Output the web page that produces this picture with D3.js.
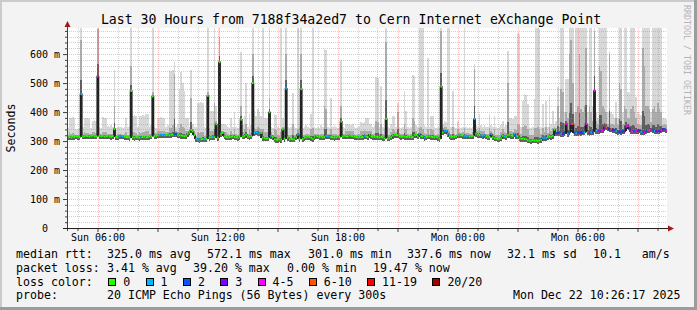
<!DOCTYPE html>
<html>
<head>
<meta charset="utf-8">
<script src="https://cdn.jsdelivr.net/npm/d3@7"></script>
<style>
  body { margin: 0; background: #fff; overflow: hidden; }
  svg { display: block; font-family: "DejaVu Sans Mono", monospace; }
</style>
</head>
<body>
<svg id="chart"></svg>
<script>
// values, one row = one hour (12 steps of 5 min)
const medianMs = [
  313,314,313,315,314,316,315,314,462,316,317,318,
  317,316,318,319,317,316,523,318,317,318,316,317,
  318,316,315,317,341,314,313,316,318,317,315,314,
  313,312,473,313,312,314,313,312,313,314,315,313,
  314,315,316,454,317,318,320,321,322,321,320,321,
  321,320,322,323,324,326,322,320,319,318,317,318,
  325,330,338,333,320,307,306,305,306,307,306,307,
  456,312,313,314,313,358,312,572,326,328,316,314,
  313,314,315,316,314,313,312,315,374,316,318,322,
  316,315,317,500,328,330,329,327,328,312,310,309,
  310,399,318,314,306,305,305,306,305,340,308,481,
  312,306,307,306,306,313,322,308,479,307,312,313,
  315,314,311,308,313,318,316,314,315,313,314,318,
  317,316,314,313,312,313,315,314,367,316,318,317,
  316,319,318,317,315,314,313,314,313,314,318,316,
  314,322,316,315,314,315,314,313,314,312,309,376,
  309,310,313,319,322,321,320,316,315,316,315,314,
  315,314,313,314,320,321,316,324,317,316,312,314,
  316,317,315,314,313,315,312,308,488,330,336,334,
  325,317,314,315,314,316,320,321,320,319,318,317,
  318,316,317,318,376,326,322,321,320,318,320,316,
  313,314,324,313,310,309,307,308,309,318,316,315,
  320,322,319,318,324,318,316,309,308,308,307,306,
  303,302,301,303,302,302,301,302,304,311,312,311,
  314,316,315,318,339,327,327,328,326,325,327,359,
  326,330,359,359,328,327,329,330,328,331,330,359,
  331,329,330,332,473,336,335,334,338,337,346,347,
  344,340,341,338,339,334,332,333,331,334,333,350,
  352,341,334,333,335,334,336,338,332,331,330,333,
  337,338,340,339,334,333,335,334,338,340,341,338
];

// lost pings out of 20 per step
const lossCount = [
  0,0,0,0,0,0,0,0,1,0,0,0,
  0,0,0,0,0,0,4,0,0,0,0,0,
  0,0,0,0,0,0,0,1,1,1,0,0,
  0,0,0,0,0,0,0,0,1,0,0,0,
  0,0,0,0,0,0,0,1,1,1,1,0,
  1,0,0,0,2,2,0,0,0,0,0,0,
  0,0,0,0,0,1,1,1,0,0,1,0,
  0,0,0,1,0,0,0,0,0,0,0,0,
  0,0,0,0,0,0,0,0,0,0,0,0,
  0,0,0,0,1,1,1,1,0,0,0,0,
  0,0,1,0,0,0,0,0,0,0,0,1,
  0,0,0,0,0,0,1,0,0,0,0,0,
  0,0,0,0,0,0,0,0,0,0,0,1,
  1,1,0,0,0,0,0,0,0,0,0,0,
  0,0,0,0,0,0,0,0,0,0,1,0,
  0,0,0,0,0,0,0,0,0,0,0,0,
  0,0,0,0,0,0,0,0,0,0,0,0,
  0,0,0,0,0,0,0,1,0,0,1,0,
  0,0,0,0,0,0,0,0,0,0,1,1,
  1,0,0,0,0,0,0,1,0,0,1,1,
  1,0,0,0,1,0,0,0,1,1,1,0,
  0,0,1,0,0,0,0,0,0,0,1,0,
  0,0,0,0,1,1,0,0,0,0,0,0,
  0,0,0,0,0,0,0,0,0,1,1,1,
  0,0,0,0,0,2,3,2,1,3,2,4,
  1,2,4,6,2,1,2,2,3,2,1,4,
  6,2,1,2,4,1,4,2,5,4,3,6,
  2,3,6,3,2,1,2,3,2,2,3,4,
  4,2,5,4,2,4,3,2,1,2,4,2,
  4,8,4,2,1,3,2,3,4,3,2,4
];

// top of the smoke (slowest ping), ms
const smokeMaxMs = [
  345,381,380,382,378,342,340,345,690,350,381,380,
  380,376,345,370,372,368,690,350,345,383,380,378,
  352,348,355,350,545,345,349,350,348,345,350,381,
  350,352,690,388,390,386,350,388,385,390,388,393,
  393,350,355,690,350,345,381,380,383,379,381,350,
  355,545,543,545,573,350,360,480,539,500,473,381,
  381,350,545,360,350,350,432,430,435,432,350,345,
  690,345,405,405,690,420,350,690,360,360,358,356,
  350,345,381,350,400,350,345,350,607,355,388,501,
  350,393,355,690,405,388,410,400,388,690,381,380,
  381,690,350,345,393,390,350,345,690,380,350,690,
  350,345,350,466,350,345,690,350,690,345,350,355,
  350,345,393,690,350,345,350,345,355,350,617,615,
  350,345,450,350,355,350,345,350,580,350,345,358,
  358,360,356,358,350,345,350,352,364,362,365,381,
  381,360,358,350,355,520,518,350,490,350,345,690,
  350,345,360,388,386,350,432,350,345,350,473,405,
  350,345,350,529,525,355,350,690,690,690,355,350,
  588,350,388,386,350,345,350,345,690,360,370,365,
  690,690,350,473,350,345,370,350,345,350,690,350,
  345,350,345,350,566,355,350,393,355,350,355,350,
  350,395,355,350,388,350,345,350,355,370,350,355,
  611,381,380,375,387,385,672,670,350,439,462,460,
  428,350,345,350,445,690,690,688,350,428,350,439,
  350,456,360,405,360,370,485,380,690,690,400,514,
  514,690,690,690,400,690,690,690,690,690,690,690,
  400,690,690,420,690,400,380,690,690,690,690,690,
  400,611,400,395,380,433,380,690,690,400,690,690,
  468,465,690,690,690,451,400,395,390,690,690,690,
  690,690,400,690,690,690,690,690,690,381,380,375
];

// top of the denser part of the smoke, ms
const smokeMidMs = [
  322,330,326,328,325,322,322,322,650,325,330,328,
  328,326,324,330,332,328,688,326,324,330,332,330,
  325,324,326,325,420,322,325,326,324,322,325,330,
  322,320,560,330,332,328,322,330,328,332,330,335,
  333,325,326,470,328,327,335,334,336,333,334,330,
  330,350,345,355,530,335,330,345,360,350,345,335,
  335,338,450,342,330,318,330,328,330,330,318,316,
  470,320,335,335,430,370,322,660,335,336,330,330,
  324,322,335,325,340,324,322,325,420,330,340,360,
  325,340,328,600,345,340,350,345,340,340,330,330,
  330,450,330,322,340,338,320,318,330,350,322,600,
  322,318,320,360,320,320,340,320,600,320,322,325,
  325,322,340,345,325,325,326,322,325,326,420,410,
  326,325,340,325,325,324,322,325,420,326,325,335,
  335,336,334,335,325,322,324,325,335,336,338,335,
  335,335,334,325,326,370,365,325,360,325,322,640,
  322,322,330,340,338,330,400,328,325,326,360,340,
  325,322,325,380,370,335,326,345,350,340,328,325,
  340,326,340,338,325,322,324,320,680,345,350,348,
  340,335,326,350,325,322,340,330,328,330,345,328,
  328,326,325,330,550,340,335,345,335,333,335,326,
  324,345,335,325,340,322,320,322,330,340,330,328,
  500,335,334,330,340,338,360,355,325,350,355,352,
  340,322,320,322,345,345,350,340,325,345,330,350,
  328,350,335,345,350,345,420,350,480,470,360,400,
  380,600,650,500,360,400,420,600,410,400,420,620,
  360,420,400,370,680,370,360,560,540,420,410,400,
  360,600,360,360,355,380,355,500,480,360,420,410,
  380,375,410,420,400,380,360,355,355,620,560,420,
  420,410,365,410,420,400,430,410,400,355,360,355
];

const lossLabels = ["0", "1", "2", "3", "4-5", "6-10", "11-19", "20/20"];
const lossUpper = [0, 1, 2, 3, 5, 10, 19, 20];
const lossColors = ["#26ff00", "#00b8ff", "#0059ff", "#7e00ff", "#ff00ff", "#ff5500", "#ff0000", "#a00000"];

const yTicks = [0, 0.1, 0.2, 0.3, 0.4, 0.5, 0.6];
const yMax = 0.69;
const startTime = new Date(2025, 11, 21, 4, 28, 30);
const stepMinutes = 5;
const spanHours = 30;

const titleText = "Last 30 Hours from 7188f34a2ed7 to Cern Internet eXchange Point";
const yLabel = "Seconds";
const rttLegend = ["median rtt:", "325.0 ms avg", "572.1 ms max", "301.0 ms min", "337.6 ms now", "32.1 ms sd", "10.1   am/s"];
const lossLegend = ["packet loss:", "3.41 % avg", "39.20 % max", "0.00 % min", "19.47 % now"];
const probeLegend = ["probe:", "20 ICMP Echo Pings (56 Bytes) every 300s"];
const stampText = "Mon Dec 22 10:26:17 2025";
const sideText = "RRDTOOL / TOBI OETIKER";


class SmokeChart {
  constructor(config) {
    this.config = {
      parent: config.parent,
      width: config.width || 697,
      height: config.height || 310,
      margin: config.margin || {top: 28, right: 30, bottom: 82, left: 67}
    };
    this.init();
  }

  init() {
    let self = this;
    const m = self.config.margin;

    self.svg = d3.select(self.config.parent)
      .attr('width', self.config.width)
      .attr('height', self.config.height);

    self.inner_width = self.config.width - m.left - m.right;
    self.inner_height = self.config.height - m.top - m.bottom;

    self.xscale = d3.scaleTime()
      .domain([startTime, d3.timeHour.offset(startTime, spanHours)])
      .range([m.left, m.left + self.inner_width]);
    self.yscale = d3.scaleLinear()
      .domain([0, yMax])
      .range([m.top + self.inner_height, m.top]);

    self.steps = medianMs.map((v, i) => ({
      t0: d3.timeMinute.offset(startTime, i * stepMinutes),
      t1: d3.timeMinute.offset(startTime, (i + 1) * stepMinutes),
      med: v / 1000,
      hi: smokeMaxMs[i] / 1000,
      mid: smokeMidMs[i] / 1000,
      loss: lossCount[i],
      // lowest neighbour, so a lone high median gets its dark column down to the base
      base: Math.min(v, medianMs[Math.max(0, i - 1)], medianMs[Math.min(medianMs.length - 1, i + 1)]) / 1000
    }));

    self.render();
  }

  render() {
    let self = this;
    const m = self.config.margin;
    const W = self.config.width, H = self.config.height;
    const x = self.xscale, y = self.yscale;
    const bottom = m.top + self.inner_height;
    const right = m.left + self.inner_width;

    // frame
    self.svg.append('rect').attr('width', W).attr('height', H).attr('fill', '#f3f3f3');
    self.svg.append('rect').attr('x', 0).attr('y', 0).attr('width', W).attr('height', 2).attr('fill', '#cbcbcb');
    self.svg.append('rect').attr('x', 0).attr('y', 0).attr('width', 2).attr('height', H).attr('fill', '#cbcbcb');
    self.svg.append('rect').attr('x', W - 3).attr('y', 0).attr('width', 3).attr('height', H).attr('fill', '#9c9c9c');
    self.svg.append('rect').attr('x', 0).attr('y', H - 3).attr('width', W).attr('height', 3).attr('fill', '#9c9c9c');

    self.svg.append('rect')
      .attr('x', m.left).attr('y', m.top)
      .attr('width', self.inner_width).attr('height', self.inner_height)
      .attr('fill', '#ffffff');

    self.svg.append('clipPath').attr('id', 'plotclip')
      .append('rect')
      .attr('x', m.left).attr('y', m.top)
      .attr('width', self.inner_width).attr('height', self.inner_height);

    self.chart = self.svg.append('g').attr('clip-path', 'url(#plotclip)');

    // smoke: light = up to slowest ping, mid = dense part, dark = core
    const smoke = self.chart.append('g').attr('shape-rendering', 'crispEdges');
    const colX = d => x(d.t0);
    const colW = d => x(d.t1) - x(d.t0);
    const coreTop = d => d.med + (d.mid - d.med) * 0.25;

    smoke.selectAll('.smoke-hi').data(self.steps).join('rect')
      .attr('class', 'smoke-hi')
      .attr('x', colX).attr('width', colW)
      .attr('y', d => y(d.hi))
      .attr('height', d => Math.max(0, y(d.med) - y(d.hi)))
      .attr('fill', '#d8d8d8');

    smoke.selectAll('.smoke-mid').data(self.steps).join('rect')
      .attr('class', 'smoke-mid')
      .attr('x', colX).attr('width', colW)
      .attr('y', d => y(d.mid))
      .attr('height', d => Math.max(0, y(d.med) - y(d.mid)))
      .attr('fill', '#ababab');

    smoke.selectAll('.smoke-core').data(self.steps).join('rect')
      .attr('class', 'smoke-core')
      .attr('x', colX).attr('width', colW)
      .attr('y', d => y(coreTop(d)))
      .attr('height', d => Math.max(0, y(d.med) + 3 - y(coreTop(d))))
      .attr('fill', '#5e5e5e');

    smoke.selectAll('.smoke-low').data(self.steps.filter(d => d.med - d.base > 0.01)).join('rect')
      .attr('class', 'smoke-low')
      .attr('x', colX).attr('width', colW)
      .attr('y', d => y(d.med))
      .attr('height', d => y(d.base) - y(d.med))
      .attr('fill', '#262626');

    // grid (rrdtool paints it over the graph, semi transparent)
    const grid = self.chart.append('g').attr('stroke-dasharray', '1,1').attr('stroke-width', 1);
    const hours = x.ticks(d3.timeHour.every(1));
    const yMinor = d3.range(1, 35).map(k => k * 0.02).filter((v, k) => (k + 1) % 5 !== 0);

    grid.selectAll('.vminor').data(hours.filter(t => t.getHours() % 3 !== 0)).join('line')
      .attr('class', 'vminor')
      .attr('x1', t => Math.round(x(t)) + 0.5).attr('x2', t => Math.round(x(t)) + 0.5)
      .attr('y1', m.top).attr('y2', bottom)
      .attr('stroke', 'rgba(150,150,150,0.45)');
    grid.selectAll('.hminor').data(yMinor).join('line')
      .attr('class', 'hminor')
      .attr('x1', m.left).attr('x2', right)
      .attr('y1', v => Math.round(y(v)) + 0.5).attr('y2', v => Math.round(y(v)) + 0.5)
      .attr('stroke', 'rgba(150,150,150,0.45)');
    grid.selectAll('.vmajor').data(hours.filter(t => t.getHours() % 3 === 0)).join('line')
      .attr('class', 'vmajor')
      .attr('x1', t => Math.round(x(t)) + 0.5).attr('x2', t => Math.round(x(t)) + 0.5)
      .attr('y1', m.top).attr('y2', bottom)
      .attr('stroke', 'rgba(225,90,90,0.38)');
    grid.selectAll('.hmajor').data(yTicks.slice(1)).join('line')
      .attr('class', 'hmajor')
      .attr('x1', m.left).attr('x2', right)
      .attr('y1', v => Math.round(y(v)) + 0.5).attr('y2', v => Math.round(y(v)) + 0.5)
      .attr('stroke', 'rgba(225,90,90,0.38)');

    // median line in black, then the loss colour marks on it
    const pts = self.steps.map(d => ({t: d.t0, v: d.med}));
    pts.push({t: self.steps[self.steps.length - 1].t1, v: self.steps[self.steps.length - 1].med});
    self.line = d3.line()
      .x(d => x(d.t))
      .y(d => y(d.v))
      .curve(d3.curveStepAfter);
    self.chart.append('path')
      .attr('d', self.line(pts))
      .attr('fill', 'none')
      .attr('stroke', '#202020')
      .attr('stroke-width', 1.2);

    const lossIndex = n => lossUpper.findIndex(u => n <= u);
    self.chart.selectAll('.lossmark').data(self.steps).join('rect')
      .attr('class', 'lossmark')
      .attr('x', colX).attr('width', colW)
      .attr('y', d => y(d.med) - 1)
      .attr('height', 2)
      .attr('fill', d => lossColors[lossIndex(d.loss)]);

    // axes
    const yMajorAxis = d3.axisLeft(y).tickValues(yTicks).tickSize(4).tickPadding(3)
      .tickFormat(v => v === 0 ? "0" : `${Math.round(v * 1000)} m`);
    const yg = self.svg.append('g')
      .attr('transform', `translate(${m.left},0)`)
      .call(yMajorAxis);
    yg.select('.domain').remove();
    yg.selectAll('line').attr('stroke', '#404040');
    yg.selectAll('text')
      .attr('font-family', '"DejaVu Sans Mono", monospace')
      .attr('font-size', '10px').attr('fill', '#000');
    yg.selectAll('.tick').filter(v => v === 0).select('text').attr('x', -19);

    const yMinorAxis = d3.axisLeft(y).tickValues(yMinor).tickSize(2).tickFormat('');
    const ymg = self.svg.append('g')
      .attr('transform', `translate(${m.left},0)`)
      .call(yMinorAxis);
    ymg.select('.domain').remove();
    ymg.selectAll('line').attr('stroke', '#404040');

    const xTickAxis = d3.axisBottom(x).tickValues(hours)
      .tickSizeInner(0).tickSizeOuter(0).tickFormat('');
    const xtg = self.svg.append('g')
      .attr('transform', `translate(0,${bottom})`)
      .call(xTickAxis);
    xtg.select('.domain').remove();
    xtg.selectAll('line')
      .attr('y2', t => t.getHours() % 3 === 0 ? 4 : 3)
      .attr('stroke', '#404040');

    const xLabelAxis = d3.axisBottom(x).ticks(d3.timeHour.every(6))
      .tickSize(0).tickPadding(6).tickFormat(d3.timeFormat('%a %H:%M'));
    const xg = self.svg.append('g')
      .attr('transform', `translate(0,${bottom})`)
      .call(xLabelAxis);
    xg.select('.domain').remove();
    xg.selectAll('text')
      .attr('font-family', '"DejaVu Sans Mono", monospace')
      .attr('font-size', '10px').attr('fill', '#000');

    // axis lines with arrows
    self.svg.append('line')
      .attr('x1', m.left + 0.5).attr('x2', m.left + 0.5)
      .attr('y1', bottom + 3).attr('y2', m.top - 2)
      .attr('stroke', '#404040');
    self.svg.append('line')
      .attr('x1', m.left - 4).attr('x2', right + 2)
      .attr('y1', bottom + 0.5).attr('y2', bottom + 0.5)
      .attr('stroke', '#202020');
    self.svg.append('path')
      .attr('d', `M${m.left - 2.5},${m.top - 1} L${m.left + 3.5},${m.top - 1} L${m.left + 0.5},${m.top - 7} Z`)
      .attr('fill', '#a01818');
    self.svg.append('path')
      .attr('d', `M${right + 1},${bottom - 2.5} L${right + 1},${bottom + 3.5} L${right + 7},${bottom + 0.5} Z`)
      .attr('fill', '#a01818');

    // texts
    self.svg.append('text')
      .attr('x', 351).attr('y', 24)
      .attr('text-anchor', 'middle')
      .style('font-size', '13.2px')
      .text(titleText);

    self.svg.append('text')
      .attr('transform', 'translate(15,128) rotate(-90)')
      .attr('text-anchor', 'middle')
      .style('font-size', '11.6px')
      .text(yLabel);

    self.svg.append('text')
      .attr('transform', 'translate(684,5) rotate(90)')
      .style('font-size', '8.3px')
      .attr('fill', '#b4b4b4')
      .text(sideText);

    const legend = self.svg.append('g').style('font-size', '11.6px').attr('fill', '#000');
    const rttX = [16, 107, 207, 308, 407, 507, 593];
    rttLegend.forEach((s, i) => {
      legend.append('text').attr('x', rttX[i]).attr('y', 258).style('white-space', 'pre').text(s);
    });
    const lossX = [16, 107, 193, 287, 373];
    lossLegend.forEach((s, i) => {
      legend.append('text').attr('x', lossX[i]).attr('y', 271.7).style('white-space', 'pre').text(s);
    });

    legend.append('text').attr('x', 16).attr('y', 285.5).text('loss color:');
    let bx = 108.3;
    lossLabels.forEach((lab, i) => {
      legend.append('rect')
        .attr('x', Math.round(bx) + 0.5).attr('y', 278.5)
        .attr('width', 7).attr('height', 7)
        .attr('fill', lossColors[i])
        .attr('stroke', '#000').attr('stroke-width', 1);
      legend.append('text').attr('x', bx + 15).attr('y', 285.5).text(lab);
      bx += 15 + lab.length * 7 + 15.3;
    });

    legend.append('text').attr('x', 16).attr('y', 299.3).text(probeLegend[0]);
    legend.append('text').attr('x', 107).attr('y', 299.3).text(probeLegend[1]);
    legend.append('text').attr('x', 680.5).attr('y', 299.3).attr('text-anchor', 'end').text(stampText);
  }
}

const chart = new SmokeChart({parent: '#chart', width: 697, height: 310});
</script>
</body>
</html>
